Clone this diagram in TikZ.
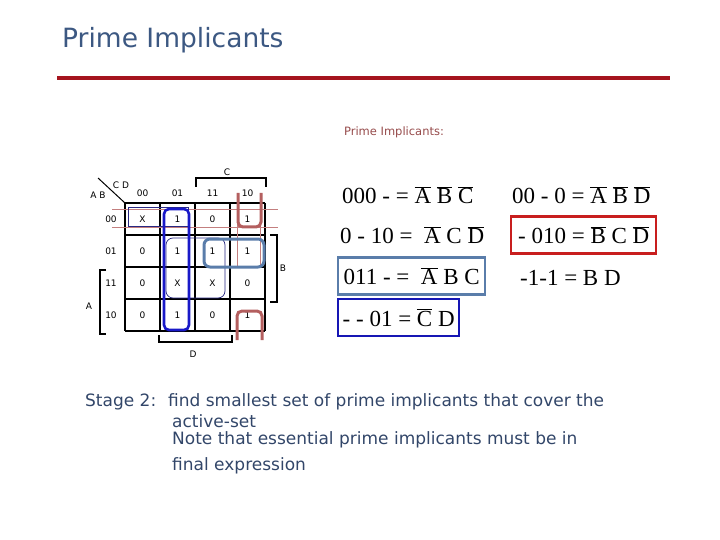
\documentclass[tikz,border=0pt]{standalone}
\usepackage{fontspec}
\setmainfont{DejaVu Sans}
\newfontfamily\exprfont{Liberation Serif}
\usetikzlibrary{positioning}
\definecolor{titleblue}{RGB}{60,88,130}
\definecolor{rulered}{RGB}{165,20,30}
\definecolor{textslate}{RGB}{50,70,105}
\definecolor{labelrose}{RGB}{150,75,75}
\definecolor{grpblue}{RGB}{25,25,200}
\definecolor{grpnavy}{RGB}{40,40,130}
\definecolor{grpsteel}{RGB}{90,125,170}
\definecolor{grpred}{RGB}{180,95,95}
\definecolor{boxred}{RGB}{200,30,30}
\newcommand{\nb}[1]{$\overline{\hbox{#1}}$}

\begin{document}
\begin{tikzpicture}[
  x=1pt, y=-1pt,
  kline/.style={black, line width=1.4pt},
  kbrace/.style={black, line width=1.6pt},
  kfont/.style={font=\fontsize{9}{10}\selectfont, inner sep=0pt},
  expr/.style={font=\exprfont\fontsize{23}{26}\selectfont, anchor=west, inner sep=0pt},
  exprbox/.style={expr, line width=2.4pt, minimum width=#1, minimum height=37pt},
  body/.style={font=\fontsize{17}{20}\selectfont, text=textslate, anchor=west, inner sep=0pt},
  thinred/.style={grpred!80, line width=0.6pt},
  thickred/.style={grpred, line width=3pt, rounded corners=5pt}
]
\useasboundingbox (0,0) rectangle (720,540);

% heading
\node[font=\fontsize{26.5}{30}\selectfont, text=titleblue, anchor=west, inner sep=0pt] (title) at (62,40) {Prime Implicants};
\draw[rulered, line width=4pt] (57,78) -- (670,78);
\node[font=\fontsize{11.5}{13}\selectfont, text=labelrose, inner sep=0pt] (pilabel) at (394,132) {Prime Implicants:};

% K-map grid
\foreach \i in {0,...,4} {
  \draw[kline] (125+35*\i,203) -- (125+35*\i,331);
  \draw[kline] (125,203+32*\i) -- (265,203+32*\i);
}
\draw[kline, line width=1pt] (98,178) -- (125,203);
\node[kfont] (cdlab) at (121,185) {C D};
\node[kfont] (ablab) at (98,195) {A B};

\foreach \h [count=\k from 0] in {00,01,11,10} {
  \node[kfont] (h\k) at (142.5+35*\k,193) {\h};
  \node[kfont] (r\k) at (111,219+32*\k) {\h};
}

\foreach \v [count=\k from 0] in {X,1,0,1, 0,1,1,1, 0,X,X,0, 0,1,0,1} {
  \pgfmathtruncatemacro{\row}{div(\k,4)}
  \pgfmathtruncatemacro{\col}{mod(\k,4)}
  \node[kfont] (v\row\col) at (142.5+35*\col,219+32*\row) {\v};
}

% variable brackets
\draw[kbrace] (196,187) -- (196,178) -- (266,178) -- (266,187);
\node[kfont] (clab) at (227,172) {C};
\draw[kbrace] (270,235) -- (277,235) -- (277,302) -- (270,302);
\node[kfont] (blab) at (283,268) {B};
\draw[kbrace] (106,270) -- (100,270) -- (100,334) -- (106,334);
\node[kfont] (alab) at (89,306) {A};
\draw[kbrace] (159,335) -- (159,342) -- (232,342) -- (232,335);
\node[kfont] (dlab) at (193,354) {D};

% groups
\draw[thinred] (112,209) -- (278,209);
\draw[thinred] (112,227) -- (278,227);
\draw[thinred] (237,193) -- (237,267);
\draw[thinred] (260,193) -- (260,267);
\draw[grpnavy, line width=0.6pt] (128,207) rectangle (188,226);
\draw[grpnavy, line width=0.7pt, rounded corners=7pt] (166,238) rectangle (225,298);
\draw[grpblue, line width=2.6pt, rounded corners=5pt] (164,209) rectangle (189,330);
\draw[grpsteel, line width=3pt, rounded corners=6pt] (204,239) rectangle (264,267);
\draw[thickred] (238,193) -- (238,227) -- (261,227) -- (261,193);
\draw[thickred] (237,340) -- (237,311) -- (262,311) -- (262,340);

% prime implicants
\node[expr] (pi1) at (342,195) {000 - = \nb{A} \nb{B} \nb{C}};
\node[expr] (pi2) at (512,195) {00 - 0 = \nb{A} \nb{B} \nb{D}};
\node[expr] (pi3) at (340,235) {0 - 10 = \ \nb{A} C \nb{D}};
\node[exprbox=145pt, draw=boxred] (pi4) at (510,235) {- 010 = \nb{B} C \nb{D}};
\node[exprbox=147pt, draw=grpsteel] (pi5) at (337,276) {011 - = \ \nb{A} B C};
\node[expr] (pi6) at (520,278) {-1-1 = B D};
\node[exprbox=121pt, draw=grpblue!90!black] (pi7) at (337,317.5) {- - 01 = \nb{C} D};

% stage text
\node[body] (stage) at (85,402) {Stage 2:};
\node[body] (line1) at (168,402) {find smallest set of prime implicants that cover the};
\node[body] (line2) at (172,421) {active-set};
\node[body] (line3) at (172,440) {Note that essential prime implicants must be in};
\node[body] (line4) at (172,466) {final expression};
\end{tikzpicture}
\end{document}
